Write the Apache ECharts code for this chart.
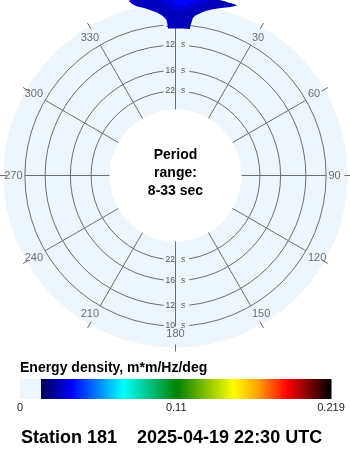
<!DOCTYPE html>
<html><head><meta charset="utf-8">
<script src="https://cdn.jsdelivr.net/npm/echarts@6/dist/echarts.min.js"></script>
<style>html,body{margin:0;padding:0;background:#fff}#c{width:350px;height:450px}</style>
</head><body><div id="c"></div>
<script>
// ---- data ----
const periodRange = [8, 33];            // sec, outer / inner edge of the radial axis
const diskOuterPeriod = 8.5;            // sec, where the shaded disk ends
const ringPeriods = [10, 12, 16, 22];   // sec
const dirTicks = [0, 30, 60, 90, 120, 150, 180, 210, 240, 270, 300, 330];
const colorbarTicks = [0, 0.11, 0.219];
const zeroLevel = 0.0148;
const zeroColor = '#edf5fd';
const stopValues = [0.0148, 0.0366, 0.0725, 0.1106, 0.150, 0.167, 0.188, 0.202, 0.219];
const stopColors = ['#000050', '#0000ff', '#00ffff', '#008000', '#ffff00', '#ffa500', '#ff0000', '#8b0000', '#000000'];
// filled energy contours: level (m*m/Hz/deg), periods (sec), left / right direction edge (deg, signed from north)
const lvlA = 0.028;
const lvlA_periods = [8.0, 8.2, 8.4, 8.6, 8.8, 9.0, 9.2, 9.4, 9.6, 9.8, 10.0, 10.3];
const lvlA_left    = [-15.0, -14.3, -13.0, -10.6, -8.5, -6.5, -5.0, -4.0, -3.3, -3.1, -3.0, -2.9];
const lvlA_right   = [20.0, 18.0, 15.3, 12.6, 10.4, 8.7, 7.1, 6.3, 6.1, 5.9, 5.7, 5.6];
const lvlB = 0.032;
const lvlB_periods = [8.0, 8.2, 8.4, 8.6, 8.8, 9.0];
const lvlB_left    = [-8.0, -6.5, -5.0, -3.5, -2.0, -0.5];
const lvlB_right   = [12.0, 10.5, 9.0, 7.0, 5.0, 3.0];
const lvlC = 0.037;
const lvlC_periods = [8.0, 8.2, 8.4, 8.6];
const lvlC_left    = [-4.0, -2.5, -1.0, 0.5];
const lvlC_right   = [8.5, 7.0, 5.0, 3.0];
const periodText = 'Period\nrange:\n' + periodRange[0] + '-' + periodRange[1] + ' sec';
const colorbarTitle = 'Energy density, m*m/Hz/deg';
const stationName = 'Station 181';
const timeStamp = '2025-04-19 22:30 UTC';

// ---- helpers ----
function hexToRgb(h) { return [1, 3, 5].map(i => parseInt(h.substr(i, 2), 16)); }
function energyColor(v) {
  if (v < zeroLevel) return zeroColor;
  for (let i = 0; i < stopValues.length - 1; i++) {
    if (v <= stopValues[i + 1]) {
      const t = (v - stopValues[i]) / (stopValues[i + 1] - stopValues[i]);
      const a = hexToRgb(stopColors[i]), b = hexToRgb(stopColors[i + 1]);
      return 'rgb(' + a.map((x, k) => Math.round(x + (b[k] - x) * t)).join(',') + ')';
    }
  }
  return stopColors[stopColors.length - 1];
}
const LINE = '#6e6e6e';
const FONT = '"Liberation Sans", Arial, sans-serif';

const chart = echarts.init(document.getElementById('c'), null, { renderer: 'canvas' });

function radiusOf(api, cs, f, a) {
  const p = api.coord([f, a]);
  return Math.hypot(p[0] - cs.cx, p[1] - cs.cy);
}
function angleOf(api, cs, f, a) {
  const p = api.coord([f, a]);
  return Math.atan2(p[1] - cs.cy, p[0] - cs.cx);
}

// colorbar segments
const cbSeg = [[0, zeroLevel, zeroColor, zeroColor]];
for (let i = 0; i < stopValues.length - 1; i++) cbSeg.push([stopValues[i], stopValues[i + 1], stopColors[i], stopColors[i + 1]]);

const contours = [
  { e: lvlA, p: lvlA_periods, l: lvlA_left, r: lvlA_right },
  { e: lvlB, p: lvlB_periods, l: lvlB_left, r: lvlB_right },
  { e: lvlC, p: lvlC_periods, l: lvlC_left, r: lvlC_right }
];

const option = {
  animation: false,
  textStyle: { fontFamily: FONT },
  polar: { center: [175.5, 175.5], radius: [66, 181] },
  radiusAxis: {
    type: 'value', min: 1 / periodRange[1], max: 1 / periodRange[0],
    axisLine: { show: false }, axisTick: { show: false }, axisLabel: { show: false }, splitLine: { show: false }
  },
  angleAxis: {
    type: 'value', min: 0, max: 360, interval: 30, startAngle: 90, clockwise: true, z: 5,
    axisLine: { show: false }, axisTick: { show: false }, splitLine: { show: false },
    axisLabel: { margin: -28, fontSize: 11, color: '#6e6e6e', fontFamily: FONT,
      formatter: v => (v === 0 || v === 360) ? '' : String(v) }
  },
  grid: { left: 20, top: 379, width: 311, height: 20 },
  xAxis: {
    type: 'value', min: 0, max: colorbarTicks[colorbarTicks.length - 1],
    axisLine: { show: false }, axisTick: { show: false }, splitLine: { show: false },
    axisLabel: { customValues: colorbarTicks, margin: 3, fontSize: 11, color: '#222', fontFamily: FONT }
  },
  yAxis: { type: 'value', min: 0, max: 1, show: false },
  title: [
    { text: colorbarTitle, left: 20, top: 361, padding: 0,
      textStyle: { fontSize: 14, fontWeight: 'bold', color: '#000', fontFamily: FONT } },
    { text: stationName + '    ' + timeStamp, left: 21, top: 429, padding: 0,
      textStyle: { fontSize: 18, fontWeight: 'bold', color: '#000', fontFamily: FONT } }
  ],
  graphic: [{
    type: 'text', x: 175.5, y: 173, z: 10,
    style: { text: periodText, align: 'center', verticalAlign: 'middle', fontSize: 14, fontWeight: 'bold',
      fontFamily: FONT, lineHeight: 18, fill: '#000' }
  }],
  series: [
    { // disk
      type: 'custom', coordinateSystem: 'polar', z: 1, clip: false, silent: true,
      data: [[1 / diskOuterPeriod, 0]],
      renderItem: (params, api) => {
        const cs = params.coordSys;
        return { type: 'sector', shape: { cx: cs.cx, cy: cs.cy, r0: radiusOf(api, cs, 1 / periodRange[1], 0),
          r: radiusOf(api, cs, api.value(0), 0), startAngle: 0, endAngle: Math.PI * 2, clockwise: true },
          style: { fill: zeroColor } };
      }
    },
    { // rings
      type: 'custom', coordinateSystem: 'polar', z: 2, clip: false, silent: true,
      data: ringPeriods.map(t => [1 / t, 0]),
      renderItem: (params, api) => {
        const cs = params.coordSys;
        return { type: 'circle', shape: { cx: cs.cx, cy: cs.cy, r: radiusOf(api, cs, api.value(0), 0) },
          style: { fill: 'none', stroke: LINE, lineWidth: 1 } };
      }
    },
    { // spokes + ticks
      type: 'custom', coordinateSystem: 'polar', z: 3, clip: false, silent: true,
      data: dirTicks.map(a => [1 / periodRange[1], a]),
      renderItem: (params, api) => {
        const cs = params.coordSys;
        const a = api.value(1);
        const p0 = api.coord([1 / periodRange[1], a]);
        const p1 = api.coord([1 / ringPeriods[0], a]);
        const ang = angleOf(api, cs, 1 / ringPeriods[0], a);
        const ux = Math.cos(ang), uy = Math.sin(ang);
        return { type: 'group', children: [
          { type: 'line', shape: { x1: p0[0], y1: p0[1], x2: p1[0], y2: p1[1] }, style: { stroke: LINE, lineWidth: 1 } },
          { type: 'line', shape: { x1: cs.cx + ux * 169, y1: cs.cy + uy * 169, x2: cs.cx + ux * 176, y2: cs.cy + uy * 176 },
            style: { stroke: LINE, lineWidth: 1 } }
        ] };
      }
    },
    { // ring labels
      type: 'custom', coordinateSystem: 'polar', z: 4, clip: false, silent: true,
      data: ringPeriods.map(t => [1 / t, 0, t]),
      renderItem: (params, api) => {
        const cs = params.coordSys;
        const r = radiusOf(api, cs, api.value(0), 0);
        const t = String(api.value(2));
        const mk = (y) => [
          { type: 'text', x: cs.cx - 0.5, y: y, style: { text: t, align: 'right', verticalAlign: 'middle',
            fontSize: 8.5, fontFamily: FONT, fill: '#555', backgroundColor: zeroColor, padding: [1, 0, 1, 2] } },
          { type: 'text', x: cs.cx + 0.5, y: y, style: { text: 's', align: 'left', verticalAlign: 'middle',
            fontSize: 8.5, fontStyle: 'italic', fontFamily: FONT, fill: '#555', backgroundColor: zeroColor, padding: [1, 4, 1, 5] } }
        ];
        return { type: 'group', children: mk(cs.cy - r).concat(mk(cs.cy + r)) };
      }
    },
    { // spectrum (filled contours)
      type: 'custom', coordinateSystem: 'polar', z: 6, clip: false, silent: true,
      data: contours.map(c => [1 / c.p[0], c.l[0]]),
      renderItem: (params, api) => {
        const c = contours[params.dataIndex];
        const n = c.p.length;
        const pts = [];
        const arc = (f, d0, d1) => {
          const k = Math.max(2, Math.ceil(Math.abs(d1 - d0) / 0.5));
          for (let j = 0; j <= k; j++) pts.push(api.coord([f, d0 + (d1 - d0) * j / k]));
        };
        arc(1 / c.p[0], c.l[0], c.r[0]);                       // outer edge, left to right
        for (let i = 1; i < n - 1; i++) pts.push(api.coord([1 / c.p[i], c.r[i]]));   // right edge inward
        arc(1 / c.p[n - 1], c.r[n - 1], c.l[n - 1]);            // inner edge, right to left
        for (let i = n - 2; i >= 1; i--) pts.push(api.coord([1 / c.p[i], c.l[i]]));  // left edge outward
        const col = energyColor(c.e);
        return { type: 'polygon', shape: { points: pts }, style: { fill: col } };
      }
    },
    { // colorbar
      type: 'custom', coordinateSystem: 'cartesian2d', z: 2, silent: true,
      data: cbSeg.map(s => [s[0], s[1]]),
      renderItem: (params, api) => {
        const seg = cbSeg[params.dataIndex];
        const a = api.coord([seg[0], 1]), b = api.coord([seg[1], 0]);
        return { type: 'rect', shape: { x: a[0], y: a[1], width: b[0] - a[0] + 0.5, height: b[1] - a[1] },
          style: { fill: new echarts.graphic.LinearGradient(0, 0, 1, 0, [{ offset: 0, color: seg[2] }, { offset: 1, color: seg[3] }]) } };
      }
    }
  ]
};
chart.setOption(option);
</script>
</body></html>
